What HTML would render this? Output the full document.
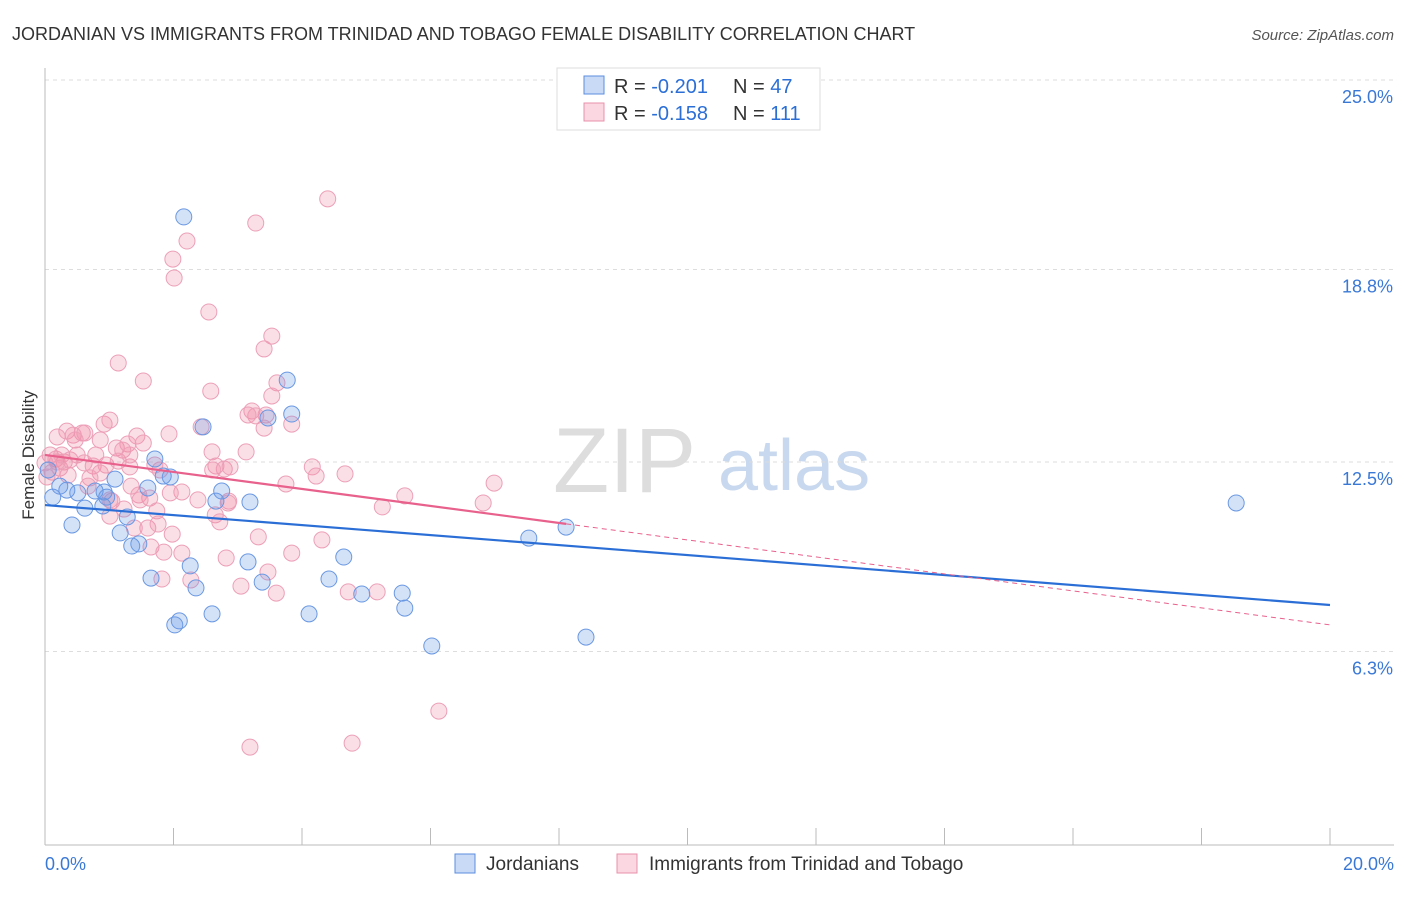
<!DOCTYPE html>
<html><head><meta charset="utf-8"><style>
body{margin:0;background:#fff;font-family:"Liberation Sans",sans-serif;}
svg text{font-family:"Liberation Sans",sans-serif;}
</style></head><body>
<svg id="chart" width="1406" height="892" xmlns="http://www.w3.org/2000/svg">
<text x="12" y="40" font-size="18" fill="#333">JORDANIAN VS IMMIGRANTS FROM TRINIDAD AND TOBAGO FEMALE DISABILITY CORRELATION CHART</text>
<text x="1394" y="40" font-size="15" fill="#555" text-anchor="end" font-style="italic">Source: ZipAtlas.com</text>
<g>
<text x="553" y="492" font-size="92" fill="#ddd" font-family="Liberation Serif,serif">ZIP</text>
<text x="718" y="490" font-size="72" fill="#c8d8ee">atlas</text>
</g>
<g id="grid"></g>
<g id="axes"></g>
<g id="points"></g>
<g id="trends"></g>
<text transform="translate(34,455) rotate(-90)" font-size="17" fill="#333" text-anchor="middle">Female Disability</text>
<g>
<rect x="557" y="68" width="263" height="62" fill="#fff" stroke="#ddd"/>
<rect x="584" y="76" width="20" height="18" fill="rgba(100,150,230,0.35)" stroke="#5b8ee0"/>
<rect x="584" y="103" width="20" height="18" fill="rgba(240,140,170,0.35)" stroke="#e891ab"/>
<text x="614" y="93" font-size="20" fill="#333">R = <tspan fill="#2b6fd6">-0.201</tspan></text>
<text x="733" y="93" font-size="20" fill="#333">N = <tspan fill="#2b6fd6">47</tspan></text>
<text x="614" y="120" font-size="20" fill="#333">R = <tspan fill="#2b6fd6">-0.158</tspan></text>
<text x="733" y="120" font-size="20" fill="#333">N = <tspan fill="#2b6fd6">111</tspan></text>
</g>
<g>
<rect x="455" y="854" width="20" height="19" fill="rgba(100,150,230,0.35)" stroke="#5b8ee0"/>
<text x="486" y="870" font-size="19" fill="#333">Jordanians</text>
<rect x="617" y="854" width="20" height="19" fill="rgba(240,140,170,0.35)" stroke="#e891ab"/>
<text x="649" y="870" font-size="19" fill="#333">Immigrants from Trinidad and Tobago</text>
</g>
</svg>
<script>
const yTicks=[25.0,18.8,12.5,6.3];
const yTickLabels=["25.0%","18.8%","12.5%","6.3%"];
const xTickLabels=["0.0%","20.0%"];
const blueX=[2.16,3.77,3.84,3.47,2.46,1.71,1.84,1.95,1.09,0.23,0.78,0.51,0.92,2.75,2.66,3.19,18.54,0.62,0.90,1.28,0.42,8.11,1.17,7.53,1.46,1.35,4.65,3.16,2.26,1.65,3.38,4.42,2.35,4.93,5.56,5.60,2.60,4.11,2.09,2.02,8.42,6.02,0.12,0.05,0.34,1.60,0.96];
const blueY=[20.52,15.18,14.07,13.94,13.65,12.60,12.04,12.01,11.94,11.71,11.55,11.49,11.52,11.55,11.22,11.19,11.16,10.99,11.06,10.70,10.44,10.37,10.18,10.01,9.82,9.75,9.39,9.23,9.10,8.70,8.57,8.67,8.38,8.18,8.21,7.72,7.53,7.53,7.30,7.17,6.77,6.48,11.35,12.24,11.58,11.65,11.35];
const pinkX=[4.40,3.28,2.21,1.99,2.01,2.55,3.53,3.41,1.14,1.53,3.61,2.58,3.53,3.22,3.44,3.28,3.41,3.84,0.92,0.34,0.58,0.44,0.19,0.62,0.47,1.43,1.93,2.43,3.13,1.53,1.11,1.29,1.21,2.60,4.16,4.67,4.22,3.75,6.99,5.60,6.82,5.25,2.66,2.79,2.61,1.32,0.75,0.95,0.30,0.08,0.17,0.23,0.11,0.03,0.36,0.86,0.70,1.14,1.79,1.71,2.13,1.63,1.95,1.34,1.04,1.23,1.01,1.74,2.86,2.85,2.65,2.72,1.01,1.46,1.60,1.76,1.39,1.98,3.32,4.31,1.65,1.85,2.13,3.84,2.82,3.05,3.60,2.27,1.82,4.72,5.17,3.47,6.13,4.78,3.19,0.19,0.26,0.39,0.50,0.79,0.00,0.61,0.86,0.67,1.32,2.38,2.88,3.16,1.48,1.01];
const pinkY=[21.11,20.32,19.73,19.14,18.52,17.41,16.62,16.20,15.74,15.15,15.09,14.82,14.66,14.17,14.04,14.01,13.61,13.74,13.74,13.51,13.45,13.38,13.32,13.45,13.22,13.35,13.42,13.65,12.83,13.12,12.96,13.09,12.89,12.83,12.34,12.11,12.04,11.78,11.81,11.39,11.16,11.03,12.37,12.27,12.24,12.34,12.37,12.40,12.50,12.73,12.60,12.30,12.17,12.01,12.07,12.14,11.98,12.53,12.24,12.40,11.52,11.32,11.49,11.71,11.22,10.96,10.73,10.90,11.22,11.16,10.77,10.54,11.26,11.42,10.34,10.47,10.34,10.14,10.05,9.95,9.72,9.55,9.52,9.52,9.36,8.44,8.21,8.64,8.67,8.25,8.25,8.90,4.35,3.30,3.17,12.50,12.73,12.57,12.73,12.73,12.47,12.47,13.22,11.71,12.73,11.26,12.34,14.04,11.26,13.87];
const blueTrend=[11.09,7.82];
const pinkTrend=[12.73,7.17];
const pinkSolidEnd=8.11;
const NS="http://www.w3.org/2000/svg";
const X0=45,X1=1330,Y0=844,Y1=80;
function sx(v){return X0+(v/20)*(X1-X0);}
function sy(v){return Y0-(v/25)*(Y0-Y1);}
function mk(tag,attrs,parent){const e=document.createElementNS(NS,tag);for(const k in attrs)e.setAttribute(k,attrs[k]);parent.appendChild(e);return e;}
const grid=document.getElementById('grid'),axes=document.getElementById('axes'),pts=document.getElementById('points'),tr=document.getElementById('trends');
yTicks.forEach((t,i)=>{
 const l=mk('line',{x1:X0,x2:1394,y1:sy(t),y2:sy(t),stroke:'#ddd','stroke-dasharray':'4,4'},grid);
 
 
 const tx=mk('text',{x:1393,y:sy(t)+23,'font-size':18,fill:'#3a78d6','text-anchor':'end'},axes);
 tx.textContent=yTickLabels[i];
 
 
});
const ya=mk('line',{x1:X0,x2:X0,y1:68,y2:Y0+1,stroke:'#bbb'},axes);


const xa=mk('line',{x1:X0,x2:1394,y1:Y0+1,y2:Y0+1,stroke:'#bbb'},axes);


for(let i=0;i<=10;i++){
 const t=mk('line',{x1:sx(i*2),x2:sx(i*2),y1:828,y2:Y0+1,stroke:'#bbb'},axes);
 
 
}
[[0,'start',45],[20,'end',1394]].forEach((a,i)=>{
 const tx=mk('text',{x:a[2],y:870,'font-size':18,fill:'#3a78d6','text-anchor':a[1]},axes);
 tx.textContent=xTickLabels[i];
 
 
});
function drawPts(xs,ys,fill,stroke,name){
 xs.forEach((x,i)=>{
  const c=mk('circle',{cx:sx(x),cy:sy(ys[i]),r:8,fill:fill,stroke:stroke,'stroke-width':1},pts);
  
  
 });
}
drawPts(pinkX,pinkY,'rgba(240,140,170,0.28)','#eca0b8','trinidad-point');
drawPts(blueX,blueY,'rgba(100,150,230,0.28)','#6a98e2','jordanian-point');
const bl=mk('line',{x1:sx(0),y1:sy(blueTrend[0]),x2:sx(20),y2:sy(blueTrend[1]),stroke:'#2b6fd6','stroke-width':2.2},tr);


const pm=pinkTrend[0]+(pinkTrend[1]-pinkTrend[0])*pinkSolidEnd/20;
const pl=mk('line',{x1:sx(0),y1:sy(pinkTrend[0]),x2:sx(pinkSolidEnd),y2:sy(pm),stroke:'#e8608c','stroke-width':2.2},tr);


const pd=mk('line',{x1:sx(pinkSolidEnd),y1:sy(pm),x2:sx(20),y2:sy(pinkTrend[1]),stroke:'#e8608c','stroke-width':1,'stroke-dasharray':'5,4'},tr);


</script>
</body></html>
